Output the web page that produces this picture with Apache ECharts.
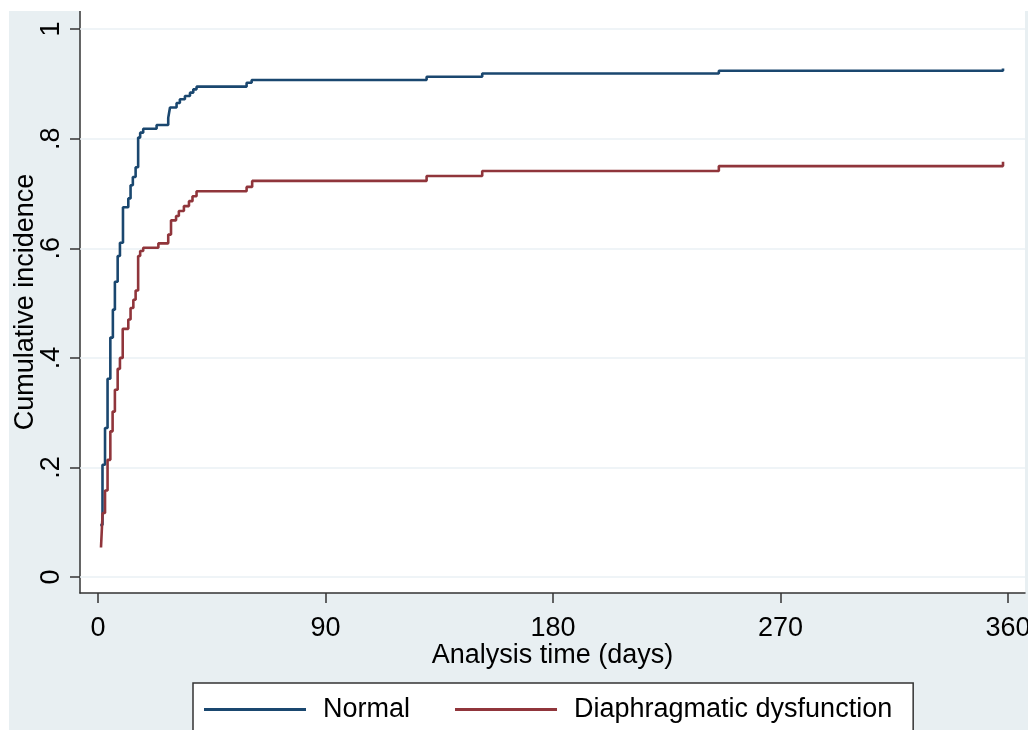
<!DOCTYPE html>
<html>
<head>
<meta charset="utf-8">
<script src="https://cdn.jsdelivr.net/npm/echarts@6/dist/echarts.min.js"></script>
<style>
  html, body { margin: 0; padding: 0; background: #ffffff; width: 1028px; height: 730px; overflow: hidden; }
  #chart { position: absolute; left: 9px; top: 11px; width: 1019px; height: 719px; }
</style>
</head>
<body>
<div id="chart"></div>
<script>
// Step times (days) and cumulative incidence after each step
const normalDays = [0.9, 1.8, 2.8, 3.8, 4.9, 5.9, 6.7, 7.8, 8.7, 9.9, 12.0, 12.9, 13.8, 14.9, 15.9, 16.7, 17.9, 23.2, 27.8, 28.5, 31.1, 32.4, 34.4, 36.4, 37.7, 39.0, 58.8, 60.8, 130, 152, 245.6, 358];
const normalCI   = [0.095, 0.205, 0.272, 0.362, 0.437, 0.488, 0.539, 0.586, 0.610, 0.675, 0.691, 0.715, 0.730, 0.748, 0.802, 0.811, 0.818, 0.825, 0.838, 0.857, 0.865, 0.872, 0.878, 0.884, 0.890, 0.895, 0.902, 0.907, 0.913, 0.919, 0.924, 0.928];

const dysDays = [1.2, 1.85, 2.8, 3.8, 4.9, 5.8, 6.7, 7.8, 8.7, 9.8, 12.0, 12.9, 14.0, 14.9, 15.9, 16.7, 17.9, 23.9, 27.8, 28.9, 30.9, 32.0, 34.0, 36.0, 37.4, 39.0, 58.8, 61.0, 130, 152, 245.6, 358];
const dysCI   = [0.054, 0.117, 0.158, 0.214, 0.266, 0.302, 0.342, 0.380, 0.400, 0.453, 0.470, 0.491, 0.506, 0.523, 0.586, 0.595, 0.601, 0.609, 0.625, 0.651, 0.659, 0.668, 0.677, 0.686, 0.695, 0.704, 0.712, 0.723, 0.732, 0.741, 0.750, 0.758];

const seriesNames = ['Normal', 'Diaphragmatic dysfunction'];
const xTicks = [0, 90, 180, 270, 360];
const yTicks = [0, 0.2, 0.4, 0.6, 0.8, 1];

const FONT = 'Liberation Sans, Arial, sans-serif';
const pairs = (xs, ys) => xs.map((x, i) => [x, ys[i]]);

const chart = echarts.init(document.getElementById('chart'), null, { renderer: 'canvas' });
chart.setOption({
  backgroundColor: '#e8eff2',
  animation: false,
  textStyle: { fontFamily: FONT },
  grid: {
    left: 71, right: 3, top: 0, bottom: 137,
    containLabel: false, outerBoundsMode: 'none',
    show: true, backgroundColor: '#ffffff', borderWidth: 0
  },
  xAxis: {
    type: 'value', min: -7.1, max: 366.7,
    name: 'Analysis time (days)', nameLocation: 'middle', nameGap: 49, nameMoveOverlap: false,
    nameTextStyle: { fontSize: 27, color: '#000', fontFamily: FONT },
    axisLine: { onZero: false, lineStyle: { color: '#333', width: 1.5 } },
    axisTick: { show: true, length: 10, customValues: xTicks, lineStyle: { color: '#333', width: 1.5 } },
    axisLabel: { customValues: xTicks, fontSize: 27, color: '#000', margin: 22, fontFamily: FONT, showMaxLabel: true },
    splitLine: { show: false }
  },
  yAxis: {
    type: 'value', min: -0.029, max: 1.033,
    name: 'Cumulative incidence', nameLocation: 'middle', nameGap: 41, nameMoveOverlap: false,
    nameTextStyle: { fontSize: 27, color: '#000', fontFamily: FONT },
    axisLine: { show: true, onZero: false, lineStyle: { color: '#333', width: 1.5 } },
    axisTick: { show: true, length: 10, customValues: yTicks, lineStyle: { color: '#333', width: 1.5 } },
    axisLabel: {
      customValues: yTicks, rotate: 90, fontSize: 27, color: '#000', margin: 15, fontFamily: FONT,
      formatter: v => (v === 0 ? '0' : v === 1 ? '1' : String(+v.toFixed(1)).replace('0.', '.'))
    },
    splitLine: { show: false }
  },
  legend: {
    left: 184, top: 672,
    orient: 'horizontal',
    data: seriesNames,
    icon: 'path://M0,0H102V3H0Z',
    itemWidth: 102, itemHeight: 3, itemGap: 45,
    padding: [13, 21, 13, 11],
    borderColor: '#333', borderWidth: 1.5, backgroundColor: '#ffffff',
    textStyle: { fontSize: 27, color: '#000', fontFamily: FONT, padding: [0, 0, 0, 12] }
  },
  series: [
    {
      name: 'grid', type: 'line', data: [], silent: true, z: 1,
      markLine: {
        z: 1, silent: true, symbol: 'none', animation: false,
        label: { show: false },
        lineStyle: { color: '#eaf1f4', width: 1.5, type: 'solid' },
        data: yTicks.map(v => ({ yAxis: v }))
      }
    },
    {
      name: seriesNames[0], type: 'line', step: 'end', symbol: 'none', z: 3,
      color: '#1a476f',
      lineStyle: { color: '#1a476f', width: 2.6 },
      data: pairs(normalDays, normalCI)
    },
    {
      name: seriesNames[1], type: 'line', step: 'end', symbol: 'none', z: 3,
      color: '#90353b',
      lineStyle: { color: '#90353b', width: 2.6 },
      data: pairs(dysDays, dysCI)
    }
  ]
});
</script>
</body>
</html>
